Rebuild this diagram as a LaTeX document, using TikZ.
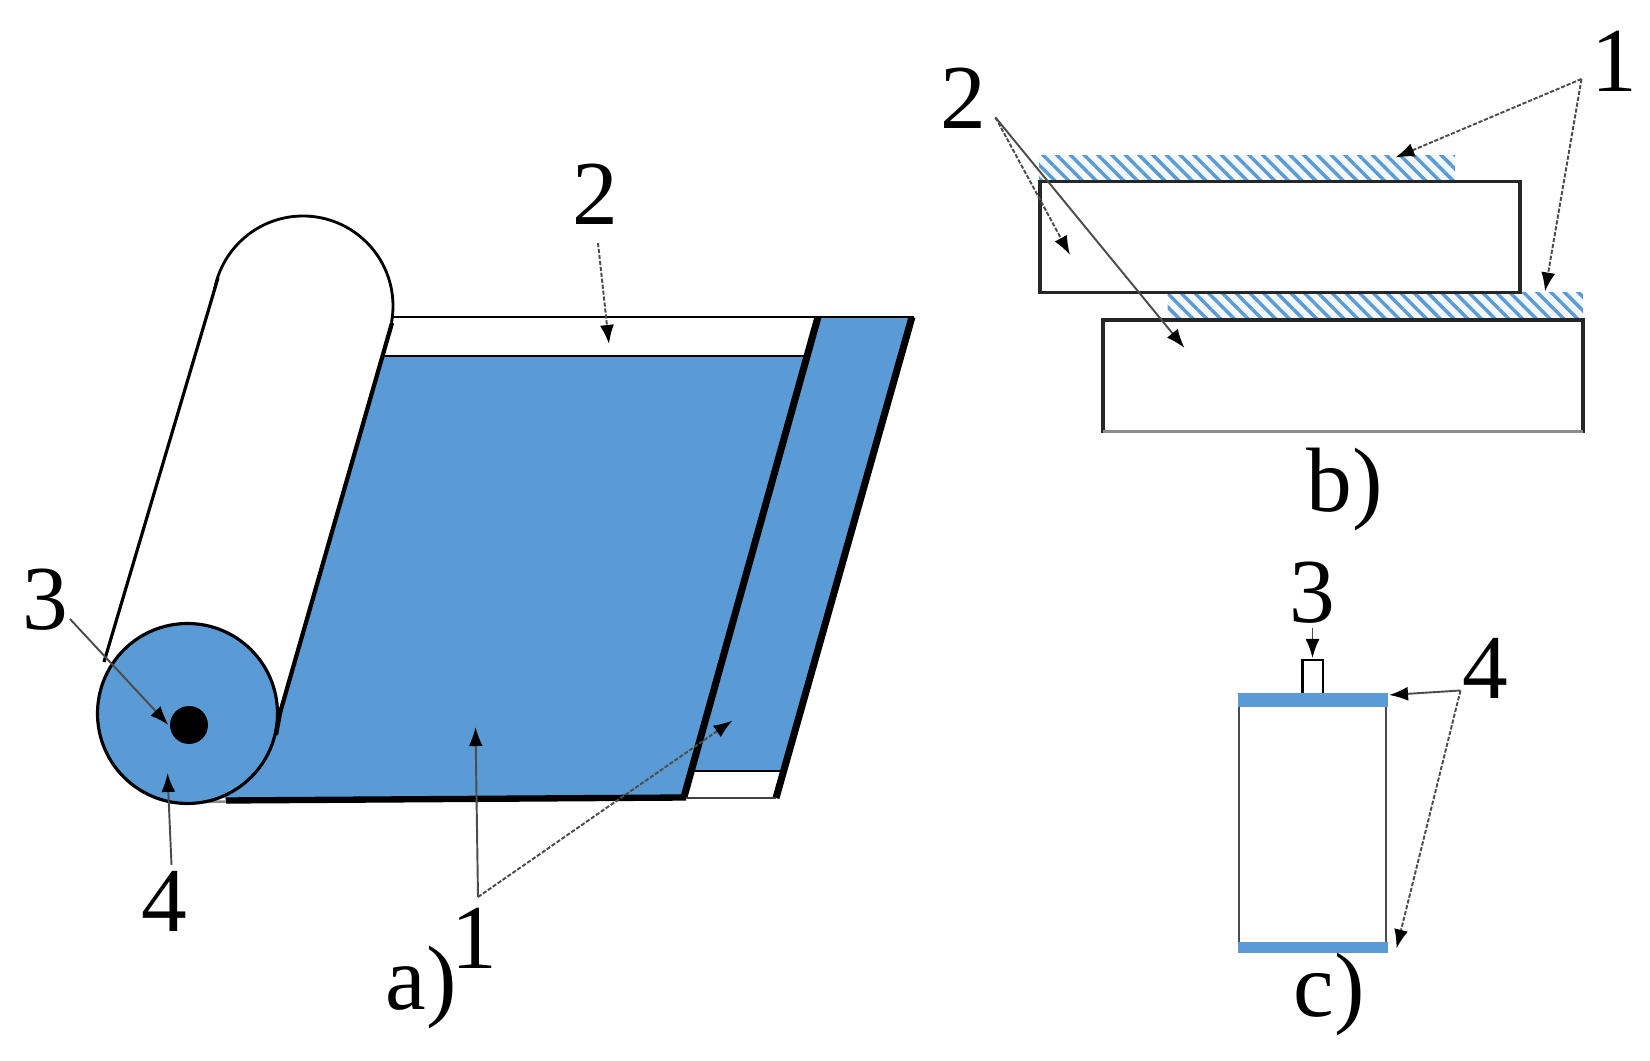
\documentclass[tikz,border=0pt]{standalone}
\usepackage{fontspec}
\setmainfont{Liberation Serif}
\usetikzlibrary{arrows.meta,patterns.meta}
\definecolor{sheetblue}{HTML}{5B9BD5}
\tikzset{
  lab/.style={inner sep=0pt,anchor=base,font=\fontsize{26}{30}\selectfont},
  lead/.style={-{Latex[length=0.19cm,width=0.14cm,color=black]},line width=0.55pt,draw=black!70},
  leaddash/.style={lead,dash pattern=on 1.2pt off 0.5pt},
  hatchbar/.style={fill=sheetblue!8,postaction={pattern={Lines[angle=-45,distance=0.097cm,line width=0.034cm]},pattern color=sheetblue}},
  sandwich/.style={draw=black!85,fill=white,line width=0.9pt}
}
\begin{document}
\begin{tikzpicture}[x=0.01cm,y=-0.01cm]
\useasboundingbox (0,0) rectangle (1650,1061);
% a) roll
\draw[line width=0.8pt] (303,306) circle[radius=90];
\fill[white] (218,278) -- (392,323) -- (280,713) -- (105,656) -- cycle;
\fill[sheetblue] (383,356) -- (806,356) -- (683,797) -- (226,800) -- (200,760) -- (280,713) -- cycle;
\fill[sheetblue] (820,317) -- (910,317) -- (782,771) -- (690,771) -- cycle;
\draw[line width=0.8pt] (393,317) -- (914,317);
\draw[line width=0.8pt] (383,356) -- (806,356);
\draw[line width=0.8pt] (690,771) -- (783,771);
\draw[line width=2pt] (818,317) -- (684,797);
\draw[line width=2pt] (912,317) -- (776,798);
\draw[line width=1.8pt] (226,800.5) -- (686,797.5);
\draw[line width=0.8pt,black!75] (686,798) -- (776,798);
\draw[line width=0.7pt,black!45] (170,802.5) -- (226,801.5);
\draw[fill=sheetblue,line width=0.9pt] (187.5,713.5) circle[radius=90];
\draw[line width=0.9pt] (218,278) -- (104,662);
\draw[line width=1.2pt] (392,323) -- (280,713) -- (276,735);
\fill (189,725) circle[radius=19];
% b) plates
\fill[hatchbar] (1039,155.5) rectangle (1455,181);
\fill[hatchbar] (1167.5,293) rectangle (1583,320);
\draw[sandwich] (1040,181.5) rectangle (1520,292.5);
\draw[sandwich] (1103,320) rectangle (1583,431.5);
\draw[black!45,line width=1.1pt] (1103,431.5) -- (1583,431.5);
% c) side view
\draw[line width=0.85pt] (1302.5,693) -- (1302.5,660) -- (1323,660) -- (1323,693);
\draw[black!70,line width=0.6pt] (1239.3,700) -- (1239.3,945);
\draw[black!70,line width=0.6pt] (1386,700) -- (1386,945);
\fill[sheetblue] (1237.7,692.7) rectangle (1387.7,706.7);
\fill[sheetblue] (1237.7,941.7) rectangle (1387.7,952.7);
% labels
\node[lab] (tag2a) at (595,224.5) {2};
\node[lab] (tag3a) at (45.5,629.5) {3};
\node[lab] (tag4a) at (164,932) {4};
\node[lab] (tag1a) at (474,968.5) {1};
\node[lab] (capa) at (421,1010) {a)};
\node[lab] (tag2b) at (963,128.5) {2};
\node[lab] (tag1b) at (1614.5,91.5) {1};
\node[lab] (capb) at (1345,511.5) {b)};
\node[lab] (tag3c) at (1312.5,623) {3};
\node[lab] (tag4c) at (1485,698.5) {4};
\node[lab] (capc) at (1329,1016.5) {c)};
% leaders
\coordinate (from2a) at (598,243);
\coordinate (to2a) at (609,344);
\coordinate (from3a) at (70,619);
\coordinate (to3a) at (168.5,725);
\coordinate (from4a) at (171.5,865);
\coordinate (to4a) at (167.5,773);
\coordinate (from1a) at (478,897);
\coordinate (to1a) at (475.5,727);
\coordinate (to1s) at (732.5,720.5);
\coordinate (from2b) at (995.5,117.5);
\coordinate (to2b) at (1070,255);
\coordinate (to2bb) at (1184.5,348);
\coordinate (from1b) at (1581.5,79);
\coordinate (to1b) at (1395.5,157.5);
\coordinate (to1bb) at (1545,291.5);
\coordinate (from3c) at (1312.5,628);
\coordinate (to3c) at (1312.5,658);
\coordinate (from4c) at (1460.5,690.5);
\coordinate (to4c) at (1389,695);
\coordinate (to4cc) at (1396.5,948.5);
\draw[leaddash] (from2a) -- (to2a);
\draw[lead] (from3a) -- (to3a);
\draw[lead] (from4a) -- (to4a);
\draw[lead] (from1a) -- (to1a);
\draw[leaddash] (from1a) -- (to1s);
\draw[leaddash] (from2b) -- (to2b);
\draw[lead] (from2b) -- (to2bb);
\draw[leaddash] (from1b) -- (to1b);
\draw[leaddash] (from1b) -- (to1bb);
\draw[lead] (from3c) -- (to3c);
\draw[lead] (from4c) -- (to4c);
\draw[leaddash] (from4c) -- (to4cc);
\end{tikzpicture}
\end{document}
